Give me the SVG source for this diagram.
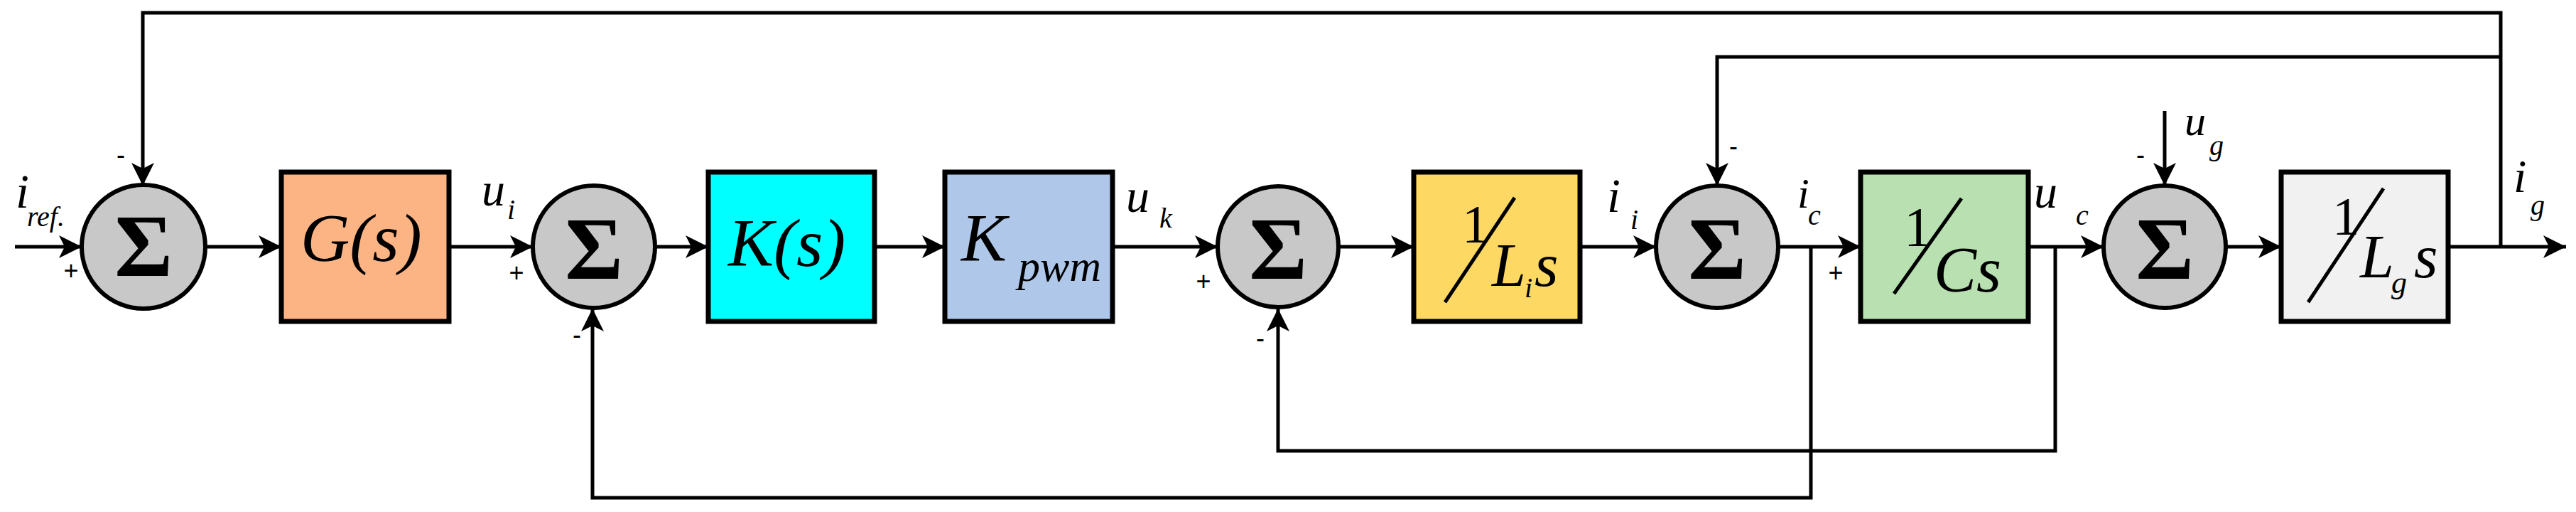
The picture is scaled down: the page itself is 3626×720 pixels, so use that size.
<svg xmlns="http://www.w3.org/2000/svg" width="3626" height="720" viewBox="0 0 3626 720">
<style>
.ln{fill:none;stroke:#000;stroke-width:5}
.ar{marker-end:url(#ah)}
.sum{fill:#c8c8c8;stroke:#000;stroke-width:6}
.box{stroke:#000;stroke-width:7}
.sig{font-family:"Liberation Serif","Times New Roman","DejaVu Serif",serif;font-weight:bold;font-size:125px;text-anchor:middle}
.t{font-family:"Liberation Serif","Times New Roman","DejaVu Serif",serif;font-style:italic}
.n{font-family:"Liberation Serif","Times New Roman","DejaVu Serif",serif}
.s{font-family:"Liberation Sans","DejaVu Sans",sans-serif;font-size:36px;text-anchor:middle}
</style>
<defs>
<marker id="ah" markerUnits="userSpaceOnUse" markerWidth="34" markerHeight="32" refX="32" refY="16" orient="auto"><path d="M0,0 L32,16 L0,32 L8,16 Z" fill="#000"/></marker>
</defs>
<rect width="3626" height="720" fill="#fff"/>
<g id="connectors">
<path class="ln ar" d="M21,347 H115"/>
<path class="ln ar" d="M3520,347 V18 H201 V261"/>
<path class="ln ar" d="M289,347 H396"/>
<path class="ln ar" d="M632,347 H750"/>
<path class="ln ar" d="M922,347 H997"/>
<path class="ln ar" d="M1231,347 H1330"/>
<path class="ln ar" d="M1566,347 H1714"/>
<path class="ln ar" d="M1883,347 H1990"/>
<path class="ln ar" d="M2224,347 H2331"/>
<path class="ln ar" d="M2503,347 H2619"/>
<path class="ln ar" d="M2855,347 H2961"/>
<path class="ln ar" d="M3133,347 H3211"/>
<path class="ln ar" d="M3446,347 H3612"/>
<path class="ln ar" d="M3520,80 H2417 V261"/>
<path class="ln ar" d="M3047,156 V261"/>
<path class="ln ar" d="M2549,347 V700 H834 V434"/>
<path class="ln ar" d="M2893,347 V634 H1799 V434"/>
</g>
<g id="sum1"><circle class="sum" cx="202" cy="347" r="87"/><text class="sig" x="202" y="388">Σ</text></g>
<g id="G"><rect class="box" x="396" y="242" width="236" height="210" fill="#fdb485"/><text class="t" x="423" y="367" font-size="96">G(s)</text></g>
<g id="sum2"><circle class="sum" cx="836" cy="347" r="86"/><text class="sig" x="836" y="392">Σ</text></g>
<g id="K"><rect class="box" x="997" y="242" width="234" height="210" fill="#00ffff"/><text class="t" x="1025" y="374" font-size="96">K(s)</text></g>
<g id="Kpwm"><rect class="box" x="1330" y="242" width="236" height="210" fill="#afc7e8"/><text class="t" x="1353" y="367" font-size="96">K</text><text class="t" x="1433" y="395" font-size="62">pwm</text></g>
<g id="sum3"><circle class="sum" cx="1799" cy="347" r="85"/><text class="sig" x="1799" y="392">Σ</text></g>
<g id="Li"><rect class="box" x="1990" y="242" width="234" height="210" fill="#fdd963"/><text class="n" x="2058" y="341" font-size="76">1</text><line x1="2132" y1="278" x2="2034" y2="425" stroke="#000" stroke-width="5"/><text class="t" x="2100" y="402" font-size="86">L</text><text class="t" x="2146" y="418" font-size="40">i</text><text class="t" x="2160" y="402" font-size="86">s</text></g>
<g id="sum4"><circle class="sum" cx="2417" cy="347" r="86"/><text class="sig" x="2417" y="392">Σ</text></g>
<g id="Cs"><rect class="box" x="2619" y="242" width="236" height="210" fill="#b9e0b1"/><text class="n" x="2680" y="345" font-size="78">1</text><line x1="2761" y1="279" x2="2666" y2="413" stroke="#000" stroke-width="5"/><text class="t" x="2722" y="410" font-size="90">Cs</text></g>
<g id="sum5"><circle class="sum" cx="3047" cy="347" r="86"/><text class="sig" x="3047" y="392">Σ</text></g>
<g id="Lg"><rect class="box" x="3211" y="242" width="235" height="210" fill="#f1f1f1"/><text class="n" x="3283" y="330" font-size="76">1</text><line x1="3355" y1="265" x2="3249" y2="425" stroke="#000" stroke-width="5"/><text class="t" x="3322" y="390" font-size="86">L</text><text class="t" x="3366" y="412" font-size="44">g</text><text class="t" x="3398" y="390" font-size="86">s</text></g>
<g id="labels">
<text class="t" x="22" y="292" font-size="68">i</text><text class="t" x="38" y="318" font-size="40">ref.</text>
<text class="t" x="678" y="289" font-size="66">u</text><text class="t" x="714" y="308" font-size="40">i</text>
<text class="t" x="1585" y="298" font-size="66">u</text><text class="t" x="1632" y="320" font-size="40">k</text>
<text class="t" x="2262" y="298" font-size="68">i</text><text class="t" x="2295" y="322" font-size="40">i</text>
<text class="t" x="2530" y="292" font-size="60">i</text><text class="t" x="2545" y="316" font-size="40">c</text>
<text class="t" x="2863" y="292" font-size="66">u</text><text class="t" x="2922" y="316" font-size="40">c</text>
<text class="t" x="3075" y="190" font-size="60">u</text><text class="t" x="3110" y="218" font-size="40">g</text>
<text class="t" x="3538" y="270" font-size="66">i</text><text class="t" x="3562" y="302" font-size="40">g</text>
<text class="s" x="170" y="230">-</text><text class="s" x="100" y="393">+</text>
<text class="s" x="727" y="396">+</text><text class="s" x="812" y="483">-</text>
<text class="s" x="1694" y="408">+</text><text class="s" x="1774" y="488">-</text>
<text class="s" x="2440" y="218">-</text><text class="s" x="2584" y="396">+</text>
<text class="s" x="3013" y="230">-</text>
</g>
</svg>
